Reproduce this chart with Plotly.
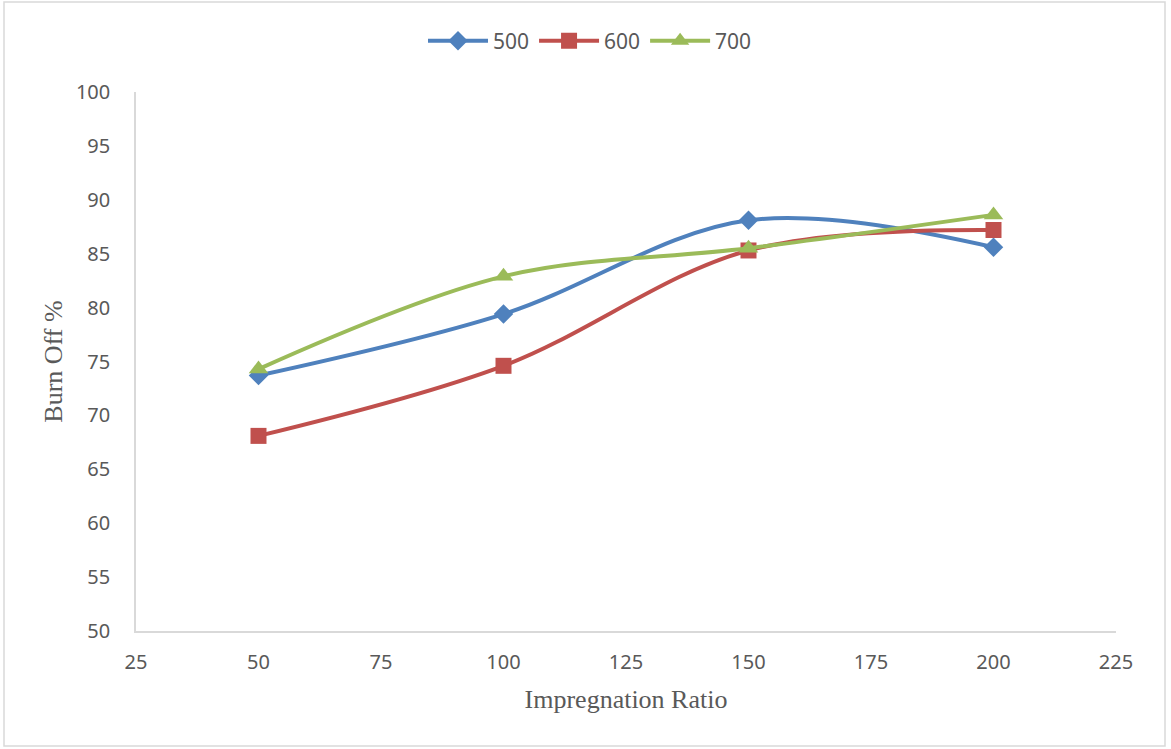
import plotly.graph_objects as go

ratio = [50, 100, 150, 200]
burn_500 = [73.7, 79.4, 88.1, 85.6]
burn_600 = [68.1, 74.6, 85.3, 87.2]
burn_700 = [74.3, 82.9, 85.5, 88.6]

series = [
    ("500", burn_500, "#4F81BD", "diamond", 15),
    ("600", burn_600, "#C0504D", "square", 16),
    ("700", burn_700, "#9BBB59", "triangle-up", 17),
]

fig = go.Figure()
for name, vals, color, sym, size in series:
    fig.add_trace(go.Scatter(
        x=ratio, y=vals, name=name, mode="lines+markers",
        line=dict(color=color, width=4, shape="spline", smoothing=1.0),
        marker=dict(symbol=sym, size=size, color=color),
    ))

W, H = 1171, 749
L, R, T, B = 136, 55, 92, 118
pw, ph = W - L - R, H - T - B

fig.add_shape(type="rect", xref="paper", yref="paper",
              x0=(4 - L) / pw, x1=(1165 - L) / pw,
              y0=(H - B - 746) / ph, y1=(H - B - 2) / ph,
              line=dict(color="#d9d9d9", width=1.5), fillcolor="rgba(0,0,0,0)", layer="below")

tickfont = dict(family="Noto Sans, Open Sans, sans-serif", size=20, color="#595959")
titlefont = dict(family="Liberation Serif, Times New Roman, serif", size=26, color="#595959")

fig.update_layout(
    width=W, height=H,
    margin=dict(l=L, r=R, t=T, b=B),
    paper_bgcolor="white", plot_bgcolor="white",
    showlegend=True,
    legend=dict(orientation="h", x=(590 - L) / pw, xanchor="center", y=1.0 + (T - 41) / ph, yanchor="middle",
                font=dict(family="Noto Sans, Open Sans, sans-serif", size=21, color="#595959"),
                itemwidth=60, tracegroupgap=0),
    xaxis=dict(range=[25, 225], tickmode="array", tickvals=[25, 50, 75, 100, 125, 150, 175, 200, 225],
               showgrid=False, zeroline=False, showline=True, linecolor="#d9d9d9", linewidth=1.5,
               ticks="", tickfont=tickfont, ticklabelstandoff=12,
               title=dict(text="Impregnation Ratio", font=titlefont, standoff=16)),
    yaxis=dict(range=[50, 100], tickmode="array", tickvals=list(range(50, 101, 5)),
               showgrid=False, zeroline=False, showline=True, linecolor="#d9d9d9", linewidth=1.5,
               ticks="", tickfont=tickfont, ticklabelstandoff=20,
               title=dict(text="Burn Off %", font=titlefont, standoff=6)),
)

fig.write_html("out.html")
